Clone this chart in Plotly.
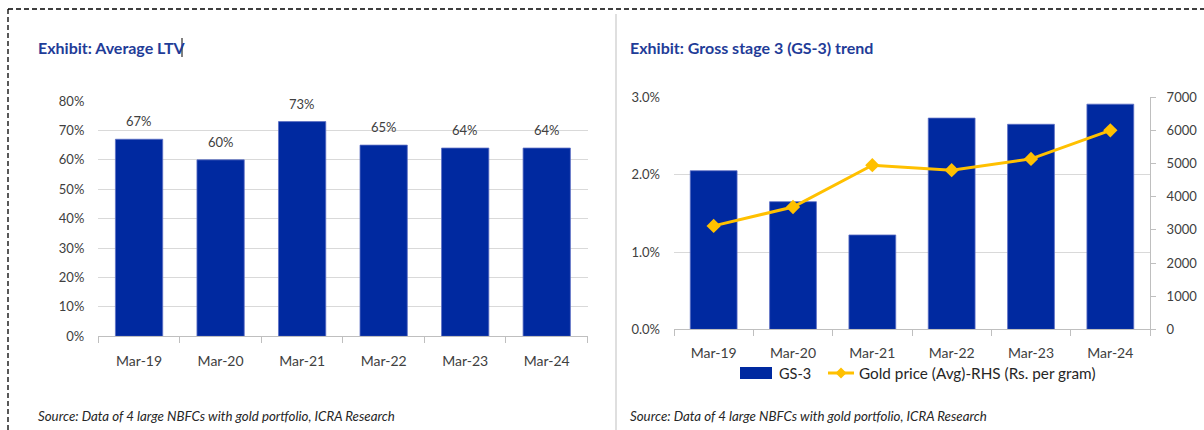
import plotly.graph_objects as go

# ---- data ----
periods = ["Mar-19", "Mar-20", "Mar-21", "Mar-22", "Mar-23", "Mar-24"]
avg_ltv = [0.67, 0.60, 0.73, 0.65, 0.64, 0.64]
gs3 = [0.0205, 0.0165, 0.0122, 0.0273, 0.0265, 0.0291]
gold_price = [3120, 3690, 4950, 4800, 5140, 6000]
gs3_name = "GS-3"
gold_name = "Gold price (Avg)-RHS (Rs. per gram)"

W, H = 1204, 430
BLUE = "#0029A0"
GOLD = "#FFC000"
NAVY = "#1F3C98"
GRID = "#D9D9D9"
AXIS = "#BFBFBF"
TXT = "#404040"
FONT = "Lato"


def px_x(x):
    return x / W


def px_y(y):
    return 1 - y / H


fig = go.Figure()

# Left panel: average LTV
fig.add_trace(go.Bar(
    x=periods, y=avg_ltv, xaxis="x", yaxis="y",
    marker=dict(color=BLUE, line=dict(color="#5C6FC4", width=0.8)),
    width=0.58, showlegend=False, hoverinfo="x+y",
))

# Right panel: GS-3 bars and gold price line
fig.add_trace(go.Bar(
    x=periods, y=gs3, xaxis="x2", yaxis="y2", name=gs3_name,
    marker=dict(color=BLUE, line=dict(color="#5C6FC4", width=0.8)),
    width=0.59, showlegend=False,
))
fig.add_trace(go.Scatter(
    x=periods, y=gold_price, xaxis="x2", yaxis="y3", name=gold_name,
    mode="lines+markers",
    line=dict(color=GOLD, width=3),
    marker=dict(symbol="diamond", size=11, color=GOLD),
    showlegend=False,
))

# value labels above the LTV bars
annotations = []
for p, v in zip(periods, avg_ltv):
    annotations.append(dict(
        x=p, y=v, xref="x", yref="y", text=f"{v * 100:.0f}%",
        showarrow=False, yanchor="bottom", yshift=8,
        font=dict(family=FONT, size=13, color=TXT),
    ))

# panel titles and source notes
for x0, title in [(36, "Exhibit: Average LTV"), (628, "Exhibit: Gross stage 3 (GS-3) trend")]:
    annotations.append(dict(
        x=px_x(x0), y=px_y(47), xref="paper", yref="paper",
        xanchor="left", yanchor="middle", showarrow=False,
        text=f"<b>{title}</b>", font=dict(family=FONT, size=16, color=NAVY),
    ))
    annotations.append(dict(
        x=px_x(x0), y=px_y(416), xref="paper", yref="paper",
        xanchor="left", yanchor="middle", showarrow=False,
        text="<i>Source: Data of 4 large NBFCs with gold portfolio, ICRA Research</i>",
        font=dict(family=FONT, size=13.3, color="#262626"),
    ))

# legend below the right panel, Excel style (wide swatch, line with diamond)
LEG_Y = 373
annotations.append(dict(
    x=px_x(777), y=px_y(LEG_Y), xref="paper", yref="paper",
    xanchor="left", yanchor="middle", showarrow=False,
    text=gs3_name, font=dict(family=FONT, size=14.5, color="#262626"),
))
annotations.append(dict(
    x=px_x(857), y=px_y(LEG_Y), xref="paper", yref="paper",
    xanchor="left", yanchor="middle", showarrow=False,
    text=gold_name, font=dict(family=FONT, size=15.3, color="#262626"),
))

dx, dy = 5.5 / W, 5.5 / H
cx, cy = px_x(841), px_y(LEG_Y)
diamond = (f"M {cx - dx},{cy} L {cx},{cy + dy} L {cx + dx},{cy} L {cx},{cy - dy} Z")

shapes = [
    # dashed frame (top and left)
    dict(type="line", xref="paper", yref="paper", x0=px_x(8), x1=1, y0=px_y(9), y1=px_y(9),
         line=dict(color="black", width=1.3, dash="5px,3px")),
    dict(type="line", xref="paper", yref="paper", x0=px_x(8), x1=px_x(8), y0=px_y(9), y1=0,
         line=dict(color="black", width=1.3, dash="5px,3px")),
    # panel separator
    dict(type="line", xref="paper", yref="paper", x0=px_x(616), x1=px_x(616), y0=px_y(14), y1=0,
         line=dict(color=AXIS, width=1)),
    # text caret after the left title
    dict(type="line", xref="paper", yref="paper", x0=px_x(182), x1=px_x(182), y0=px_y(38), y1=px_y(57),
         line=dict(color="black", width=1)),
    # legend swatches
    dict(type="rect", xref="paper", yref="paper",
         x0=px_x(740), x1=px_x(772), y0=px_y(LEG_Y + 6), y1=px_y(LEG_Y - 6),
         fillcolor=BLUE, line=dict(width=0)),
    dict(type="line", xref="paper", yref="paper",
         x0=px_x(828), x1=px_x(854), y0=px_y(LEG_Y), y1=px_y(LEG_Y),
         line=dict(color=GOLD, width=3)),
    dict(type="path", xref="paper", yref="paper", path=diamond,
         fillcolor=GOLD, line=dict(width=0)),
]

tickfont = dict(family=FONT, size=13, color=TXT)
catfont = dict(family=FONT, size=14, color=TXT)

fig.update_layout(
    width=W, height=H,
    margin=dict(l=0, r=0, t=0, b=0, autoexpand=False),
    paper_bgcolor="white", plot_bgcolor="white",
    font=dict(family=FONT, color=TXT),
    bargap=0.41,
    showlegend=False,
    xaxis=dict(
        domain=[px_x(98.3), px_x(587.5)], anchor="y", automargin=False,
        showline=True, linecolor=AXIS, ticks="outside", tickson="boundaries",
        ticklen=6, tickcolor=AXIS, tickfont=catfont, ticklabelstandoff=12,
        showgrid=False, fixedrange=True,
    ),
    yaxis=dict(
        domain=[px_y(336.3), px_y(101)], anchor="x", automargin=False,
        range=[0, 0.8], dtick=0.1, tickformat=".0%",
        showgrid=True, gridcolor=GRID, gridwidth=1, zeroline=False,
        showline=False, tickfont=tickfont, ticklabelstandoff=13,
    ),
    xaxis2=dict(
        domain=[px_x(674), px_x(1150)], anchor="y2", automargin=False,
        showline=True, linecolor=AXIS, ticks="outside", tickson="boundaries",
        ticklen=6, tickcolor=AXIS, tickfont=catfont, ticklabelstandoff=11,
        showgrid=False,
    ),
    yaxis2=dict(
        domain=[px_y(329.4), px_y(97.2)], anchor="x2", automargin=False,
        range=[0, 0.03], dtick=0.01, tickformat=".1%",
        showgrid=True, gridcolor=GRID, gridwidth=1, zeroline=False,
        showline=False, tickfont=tickfont, ticklabelstandoff=13,
    ),
    yaxis3=dict(
        overlaying="y2", side="right", anchor="x2", automargin=False,
        range=[0, 7000], dtick=1000,
        showgrid=False, zeroline=False,
        showline=True, linecolor=AXIS, ticks="outside", ticklen=5, tickcolor=AXIS,
        tickfont=tickfont, ticklabelstandoff=8,
    ),
    annotations=annotations,
    shapes=shapes,
)

fig.write_html("out.html")
